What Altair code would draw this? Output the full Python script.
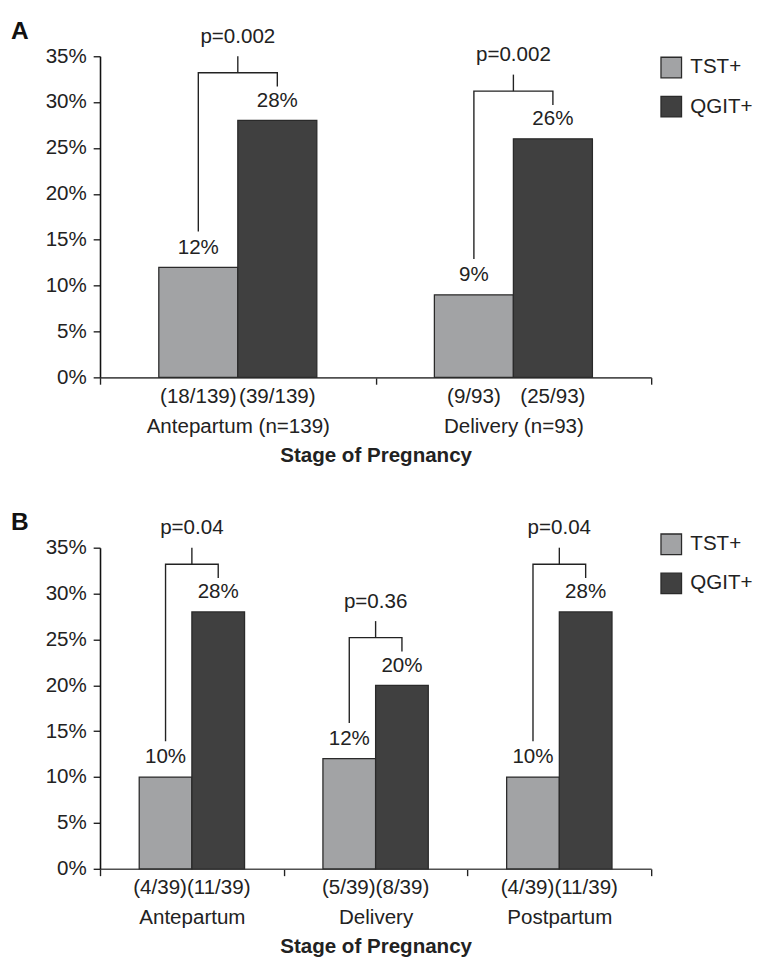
import altair as alt
import pandas as pd

FONT = "Liberation Sans"
FS = 21

series = ["TST+", "QGIT+"]
series_colors = ["#a2a3a5", "#404040"]
y_ticks = [0, 5, 10, 15, 20, 25, 30, 35]

# Panel A
a_stages = ["Antepartum (n=139)", "Delivery (n=93)"]
a_tst = [12, 9]
a_qgit = [28, 26]
a_tst_counts = ["(18/139)", "(9/93)"]
a_qgit_counts = ["(39/139)", "(25/93)"]
a_pvalues = ["p=0.002", "p=0.002"]

# Panel B
b_stages = ["Antepartum", "Delivery", "Postpartum"]
b_tst = [10, 12, 10]
b_qgit = [28, 20, 28]
b_tst_counts = ["(4/39)", "(5/39)", "(4/39)"]
b_qgit_counts = ["(11/39)", "(8/39)", "(11/39)"]
b_pvalues = ["p=0.04", "p=0.36", "p=0.04"]


def panel(letter, stages, tst, qgit, tcounts, qcounts, pvals, legend_y, joined):
    bars = []
    brackets = []
    stubs = []
    for i, s in enumerate(stages):
        bars.append({"stage": s, "series": "TST+", "value": tst[i],
                     "label": f"{tst[i]}%", "count": tcounts[i], "zero": 0})
        bars.append({"stage": s, "series": "QGIT+", "value": qgit[i],
                     "label": f"{qgit[i]}%", "count": qcounts[i], "zero": 0})
        top = max(tst[i], qgit[i]) + 5.2
        brackets += [
            {"stage": s, "series": "TST+", "value": tst[i] + 3.9, "ord": 0},
            {"stage": s, "series": "TST+", "value": top, "ord": 1},
            {"stage": s, "series": "QGIT+", "value": top, "ord": 2},
            {"stage": s, "series": "QGIT+", "value": qgit[i] + 3.7, "ord": 3},
        ]
        stubs.append({"stage": s, "value": top, "value2": top + 1.8,
                      "ptext": pvals[i], "pval": top + 3.9,
                      "counts": tcounts[i] + qcounts[i], "zero": 0})
    bars = pd.DataFrame(bars)
    brackets = pd.DataFrame(brackets)
    stubs = pd.DataFrame(stubs)

    x = alt.X("stage:N", sort=stages,
              scale=alt.Scale(paddingInner=0, paddingOuter=0),
              axis=alt.Axis(title="Stage of Pregnancy", labelAngle=0,
                            tickBand="extent", labelPadding=32, labelLimit=400,
                            titlePadding=9, domainColor="#505050"))
    xo = alt.XOffset("series:N", sort=series,
                     scale=alt.Scale(paddingInner=0, paddingOuter=0.744))
    yaxis = alt.Axis(values=y_ticks, labelExpr="datum.value + '%'",
                     title=None, grid=False, labelPadding=7)
    yscale = alt.Scale(domain=[0, 35], nice=False)

    bar = alt.Chart(bars).mark_bar(stroke="#2a2a2a", strokeWidth=1.3).encode(
        x=x, xOffset=xo,
        y=alt.Y("value:Q", scale=yscale, axis=yaxis),
        color=alt.Color("series:N", sort=series,
                        scale=alt.Scale(domain=series, range=series_colors),
                        legend=alt.Legend(title=None, orient="none",
                                          legendX=572, legendY=legend_y,
                                          symbolType="square", symbolSize=441,
                                          symbolStrokeColor="#2a2a2a",
                                          symbolStrokeWidth=1.3,
                                          labelFontSize=FS, labelFont=FONT,
                                          labelColor="#222", labelOffset=8,
                                          rowPadding=13)),
    )
    vlabels = alt.Chart(bars).mark_text(fontSize=FS, font=FONT, color="#222",
                                        baseline="middle", dy=-20).encode(
        x=x, xOffset=xo, y=alt.Y("value:Q", scale=yscale, axis=yaxis),
        text="label:N")
    if joined:
        counts = alt.Chart(stubs).mark_text(fontSize=FS, font=FONT, color="#222",
                                            baseline="middle", dy=20).encode(
            x=x, y=alt.Y("zero:Q", scale=yscale, axis=yaxis),
            text="counts:N")
    else:
        counts = alt.Chart(bars).mark_text(fontSize=FS, font=FONT, color="#222",
                                           baseline="middle", dy=20).encode(
            x=x, xOffset=xo, y=alt.Y("zero:Q", scale=yscale, axis=yaxis),
            text="count:N")
    bracket = alt.Chart(brackets).mark_line(color="#222", strokeWidth=1.4).encode(
        x=x, xOffset=xo, y=alt.Y("value:Q", scale=yscale, axis=yaxis),
        detail="stage:N", order="ord:Q")
    stub = alt.Chart(stubs).mark_rule(color="#222", strokeWidth=1.4).encode(
        x=x, y=alt.Y("value:Q", scale=yscale, axis=yaxis), y2="value2:Q")
    ptext = alt.Chart(stubs).mark_text(fontSize=FS, font=FONT, color="#222",
                                       baseline="middle").encode(
        x=x, y=alt.Y("pval:Q", scale=yscale, axis=yaxis), text="ptext:N")
    letter_mark = alt.Chart(pd.DataFrame({"t": [letter]})).mark_text(
        fontSize=25, font=FONT, fontWeight="bold", align="left",
        baseline="middle", color="#111").encode(
        x=alt.value(-91), y=alt.value(-26), text="t:N")

    return alt.layer(bar, vlabels, counts, bracket, stub, ptext, letter_mark).properties(
        width=563, height=328)


pa = panel("A", a_stages, a_tst, a_qgit, a_tst_counts, a_qgit_counts, a_pvalues, 0, False)
pb = panel("B", b_stages, b_tst, b_qgit, b_tst_counts, b_qgit_counts, b_pvalues, -15, True)

chart = alt.vconcat(pa, pb, spacing=46).resolve_scale(
    color="independent", x="independent", xOffset="independent"
).properties(
    padding={"left": 3, "top": 1, "right": 0, "bottom": 0}
).configure_view(stroke=None).configure_axis(
    labelFont=FONT, labelFontSize=FS, labelColor="#222",
    titleFont=FONT, titleFontSize=FS, titleFontWeight="bold", titleColor="#222",
    tickSize=7, tickColor="#222", tickWidth=1.4,
    domainColor="#111", domainWidth=1.6,
)

chart.save("out.html", embed_options={"renderer": "svg", "actions": False})
